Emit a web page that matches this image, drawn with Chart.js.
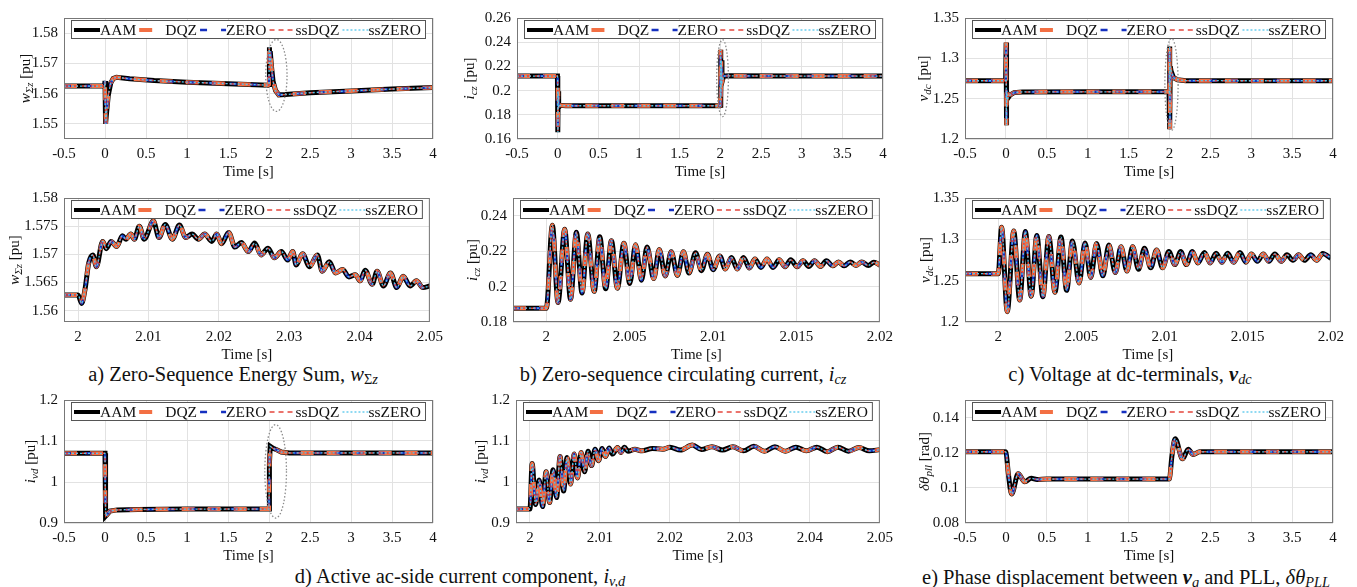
<!DOCTYPE html>
<html>
<head>
<meta charset="utf-8">
<script src="https://cdn.jsdelivr.net/npm/chart.js@4.4.1/dist/chart.umd.min.js"></script>
<style>
  body { margin: 0; background: #fff; width: 1357px; height: 587px; position: relative; overflow: hidden;
         font-family: "Liberation Serif", "Times New Roman", serif; color: #111; }
  .panel { position: absolute; }
  .cap { position: absolute; font-size: 20.5px; white-space: nowrap; line-height: 1; transform: translate(-50%, -50%); }
  .cap sub { font-size: 70%; vertical-align: -0.25em; }
</style>
</head>
<body>
<div class="cap" style="left:233px;top:375px">a) Zero-Sequence Energy Sum, <i>w</i><sub>Σ<i>z</i></sub></div>
<div class="cap" style="left:683px;top:375px">b) Zero-sequence circulating current, <i>i<sub>cz</sub></i></div>
<div class="cap" style="left:1130px;top:375px">c) Voltage at dc-terminals, <b><i>v</i></b><sub><i>dc</i></sub></div>
<div class="cap" style="left:460px;top:577px">d) Active ac-side current component, <i>i<sub>v,d</sub></i></div>
<div class="cap" style="left:1126px;top:578px">e) Phase displacement between <b><i>v</i></b><sub><i>g</i></sub> and PLL, <i>δθ<sub>PLL</sub></i></div>
<script>
// series (models compared)
const seriesNames = ["AAM", "DQZ", "ZERO", "ssDQZ", "ssZERO"];

// tick labels
const tickFull = [-0.5, 0, 0.5, 1, 1.5, 2, 2.5, 3, 3.5, 4];
const tickZoom5 = [2, 2.01, 2.02, 2.03, 2.04, 2.05];
const tickZoom2 = [2, 2.005, 2.01, 2.015, 2.02];
const yTickW1 = [1.55, 1.56, 1.57, 1.58];
const yTickW2 = [1.56, 1.565, 1.57, 1.575, 1.58];
const yTickI1 = [0.16, 0.18, 0.2, 0.22, 0.24, 0.26];
const yTickI2 = [0.18, 0.2, 0.22, 0.24];
const yTickV = [1.2, 1.25, 1.3, 1.35];
const yTickD = [0.9, 1, 1.1, 1.2];
const yTickP = [0.08, 0.1, 0.12, 0.14];

// a) zero-sequence energy sum, full run
const wszT = [-0.5, -0.005, 0, 0.004, 0.01, 0.02, 0.04, 0.07, 0.1, 0.14, 0.3, 0.6, 1.0, 1.5, 1.99, 2.0, 2.003, 2.008, 2.015, 2.03, 2.05, 2.08, 2.12, 2.2, 2.5, 3.0, 3.5, 4.0];
const wszY = [1.5625, 1.5625, 1.5642, 1.5560, 1.5500, 1.5540, 1.5595, 1.5635, 1.5650, 1.5654, 1.5649, 1.5643, 1.5638, 1.5633, 1.5628, 1.5630, 1.5753, 1.5700, 1.5740, 1.5690, 1.5640, 1.5610, 1.5596, 1.5597, 1.5603, 1.5609, 1.5615, 1.5620];
// a) zoom after the step at 2 s
const wszZoomT = [1.998, 2.0, 2.0005, 2.001, 2.0015, 2.0021, 2.0026, 2.0035, 2.004, 2.0047, 2.0055, 2.0063, 2.0068, 2.0075, 2.008, 2.0087, 2.0094, 2.0107, 2.0115, 2.0124, 2.0134, 2.0144, 2.0153, 2.0162, 2.0171, 2.018, 2.019, 2.0197, 2.0204, 2.0214, 2.0223, 2.0232, 2.0242, 2.0251, 2.026, 2.027, 2.0279, 2.0289, 2.0298, 2.0305, 2.031, 2.0319, 2.0329, 2.034, 2.0347, 2.0357, 2.0366, 2.0376, 2.0385, 2.0394, 2.0401, 2.0408, 2.0418, 2.0425, 2.0434, 2.0444, 2.0453, 2.0462, 2.0472, 2.0481, 2.049, 2.05];
const wszZoomY = [1.5628, 1.5628, 1.5613, 1.5639, 1.5684, 1.5699, 1.5678, 1.5723, 1.5710, 1.5723, 1.5714, 1.5733, 1.5727, 1.5736, 1.5727, 1.5750, 1.5727, 1.5759, 1.5730, 1.5753, 1.5727, 1.5752, 1.5730, 1.5736, 1.5727, 1.5736, 1.5723, 1.5736, 1.5719, 1.5739, 1.5713, 1.5721, 1.5705, 1.5720, 1.5699, 1.5711, 1.5694, 1.5705, 1.5690, 1.5705, 1.5681, 1.5701, 1.5678, 1.5699, 1.5670, 1.5687, 1.5667, 1.5673, 1.5660, 1.5664, 1.5653, 1.5672, 1.5647, 1.5670, 1.5644, 1.5667, 1.5641, 1.5661, 1.5644, 1.5653, 1.5641, 1.5644];

// b) zero-sequence circulating current
const iczT = [-0.5, -0.003, 0, 0.003, 0.006, 0.012, 0.03, 0.1, 1.0, 1.995, 2.0, 2.003, 2.007, 2.012, 2.02, 2.04, 2.1, 3, 4];
const iczY = [0.2120, 0.2120, 0.2108, 0.1655, 0.1995, 0.1860, 0.1878, 0.1875, 0.1875, 0.1875, 0.1878, 0.2337, 0.1950, 0.2250, 0.2070, 0.2120, 0.2122, 0.2120, 0.2120];
const iczZoomT = [1.998, 2.0, 2.00036, 2.0007, 2.0011, 2.00145, 2.0018, 2.00214, 2.00248, 2.00287, 2.0032, 2.00356, 2.0039, 2.00426, 2.00465, 2.005, 2.00535, 2.0057, 2.00604, 2.00644, 2.00677, 2.00713, 2.00749, 2.00786, 2.00822, 2.00855, 2.00895, 2.0093, 2.00966, 2.01, 2.0104, 2.01073, 2.0111, 2.01145, 2.01182, 2.01218, 2.01251, 2.01287, 2.01323, 2.0136, 2.01396, 2.01432, 2.01465, 2.01505, 2.01539, 2.01574, 2.01608, 2.01644, 2.01679, 2.01717, 2.01752, 2.01786, 2.01822, 2.01857, 2.01891, 2.01931, 2.01964, 2.02];
const iczZoomY = [0.1878, 0.1878, 0.2346, 0.1910, 0.2324, 0.1928, 0.2306, 0.1964, 0.2297, 0.1973, 0.2281, 0.1987, 0.2259, 0.1991, 0.2245, 0.2018, 0.2236, 0.2036, 0.2223, 0.2045, 0.2209, 0.2060, 0.2196, 0.2063, 0.2196, 0.2077, 0.2191, 0.2090, 0.2182, 0.2095, 0.2173, 0.2099, 0.2164, 0.2099, 0.2164, 0.2105, 0.2155, 0.2108, 0.2155, 0.2108, 0.2151, 0.2112, 0.2151, 0.2112, 0.2146, 0.2114, 0.2146, 0.2114, 0.2146, 0.2117, 0.2139, 0.2117, 0.2139, 0.2119, 0.2139, 0.2119, 0.2137, 0.2121];

// c) dc-terminal voltage
const vdcT = [-0.5, -0.003, 0, 0.003, 0.006, 0.01, 0.02, 0.05, 0.1, 0.2, 1.0, 1.995, 2.0, 2.003, 2.006, 2.01, 2.02, 2.05, 2.1, 2.2, 3, 4];
const vdcY = [1.2722, 1.2722, 1.2722, 1.3195, 1.2170, 1.2600, 1.2500, 1.2545, 1.2575, 1.2584, 1.2585, 1.2585, 1.2585, 1.3148, 1.2120, 1.2900, 1.2840, 1.2760, 1.2735, 1.2723, 1.2722, 1.2722];
const vdcZoomT = [1.998, 2.0, 2.0002, 2.00054, 2.00093, 2.00129, 2.00163, 2.00198, 2.00232, 2.00268, 2.00304, 2.00341, 2.00377, 2.00411, 2.00446, 2.00486, 2.00522, 2.00556, 2.00591, 2.00629, 2.00665, 2.00704, 2.00738, 2.00774, 2.00808, 2.00843, 2.00879, 2.00917, 2.00952, 2.00988, 2.01026, 2.01062, 2.01097, 2.01131, 2.01167, 2.012, 2.0124, 2.01274, 2.0131, 2.01345, 2.01379, 2.01415, 2.01453, 2.01489, 2.01522, 2.01558, 2.01594, 2.01627, 2.01663, 2.01701, 2.01736, 2.01772, 2.01806, 2.01841, 2.01879, 2.01915, 2.01951, 2.02];
const vdcZoomY = [1.2585, 1.2585, 1.3145, 1.2125, 1.3100, 1.2266, 1.3094, 1.2313, 1.3047, 1.2305, 1.3035, 1.2359, 1.3027, 1.2383, 1.2980, 1.2473, 1.2957, 1.2539, 1.2950, 1.2559, 1.2930, 1.2598, 1.2910, 1.2617, 1.2910, 1.2637, 1.2891, 1.2656, 1.2871, 1.2656, 1.2852, 1.2695, 1.2852, 1.2695, 1.2852, 1.2715, 1.2840, 1.2715, 1.2832, 1.2723, 1.2832, 1.2723, 1.2840, 1.2723, 1.2824, 1.2734, 1.2824, 1.2734, 1.2824, 1.2734, 1.2812, 1.2746, 1.2812, 1.2746, 1.2812, 1.2746, 1.2830, 1.2770];

// d) active ac-side current
const ivdT = [-0.5, -0.003, 0, 0.004, 0.01, 0.03, 0.06, 0.15, 0.4, 1.0, 1.995, 2.0, 2.005, 2.015, 2.05, 2.1, 2.15, 2.25, 3, 4];
const ivdY = [1.070, 1.070, 1.070, 0.960, 0.917, 0.922, 0.929, 0.932, 0.933, 0.934, 0.934, 0.934, 1.045, 1.087, 1.082, 1.078, 1.073, 1.071, 1.071, 1.071];
const ivdZoomT = [1.998, 2.0, 2.0003, 2.0008, 2.0013, 2.0018, 2.0023, 2.0028, 2.0033, 2.0038, 2.0043, 2.0048, 2.0053, 2.0058, 2.0063, 2.0068, 2.0073, 2.0078, 2.0083, 2.0088, 2.0093, 2.0098, 2.0103, 2.0108, 2.0113, 2.0118, 2.0125, 2.013, 2.0135, 2.014, 2.015, 2.016, 2.0175, 2.019, 2.02, 2.0215, 2.0232, 2.0245, 2.026, 2.0275, 2.029, 2.0305, 2.032, 2.0335, 2.035, 2.0365, 2.038, 2.0395, 2.041, 2.0425, 2.044, 2.0455, 2.047, 2.0485, 2.05];
const ivdZoomY = [0.934, 0.934, 1.045, 0.945, 1.005, 0.940, 1.025, 0.950, 1.030, 0.962, 1.062, 0.978, 1.060, 0.995, 1.068, 1.010, 1.072, 1.025, 1.075, 1.040, 1.080, 1.052, 1.082, 1.062, 1.083, 1.068, 1.084, 1.072, 1.085, 1.075, 1.080, 1.076, 1.082, 1.080, 1.085, 1.078, 1.090, 1.079, 1.086, 1.078, 1.086, 1.076, 1.087, 1.075, 1.086, 1.075, 1.085, 1.076, 1.085, 1.074, 1.085, 1.075, 1.084, 1.076, 1.079];

// e) PLL phase displacement
const pllT = [-0.5, -0.01, 0, 0.03, 0.07, 0.15, 0.23, 0.31, 0.38, 0.5, 1.0, 1.5, 1.99, 2.0, 2.03, 2.07, 2.16, 2.23, 2.29, 2.37, 2.5, 3, 4];
const pllY = [0.1205, 0.1205, 0.1203, 0.108, 0.0965, 0.108, 0.1035, 0.1055, 0.1048, 0.105, 0.105, 0.105, 0.105, 0.1052, 0.118, 0.128, 0.1165, 0.122, 0.119, 0.1205, 0.1205, 0.1205, 0.1205];

// ---- styling ----
const FONT = '"Liberation Serif", "Times New Roman", serif';
const lineStyle = [
  { color: "#000000", width: 5, dash: [] },
  { color: "#f36f43", width: 4, dash: [13, 13] },
  { color: "#1530c0", width: 2.5, dash: [7, 14] },
  { color: "#e5453c", width: 1.5, dash: [5, 4] },
  { color: "#54c6ec", width: 1.3, dash: [2, 2] },
];
const PAD_L = 64, PAD_T = 10, PAD_R = 16, X_H = 44;

const fmt = (v) => String(+Number(v).toFixed(5));

const framePlugin = {
  id: "frame",
  afterDatasetsDraw(chart, args, opts) {
    const { ctx, scales } = chart;
    // dotted ellipse marking the zoomed region
    if (opts.ring) {
      const r = opts.ring;
      const cx = scales.x.getPixelForValue(r.cx), cy = scales.y.getPixelForValue(r.cy);
      const rx = Math.abs(scales.x.getPixelForValue(r.cx + r.rx) - cx);
      const ry = Math.abs(scales.y.getPixelForValue(r.cy + r.ry) - cy);
      ctx.save();
      ctx.strokeStyle = "#8a8a8a";
      ctx.lineWidth = 1.3;
      ctx.setLineDash([1.5, 2]);
      ctx.beginPath();
      ctx.ellipse(cx, cy, rx, ry, 0, 0, Math.PI * 2);
      ctx.stroke();
      ctx.restore();
    }
  },
  afterDraw(chart, args, opts) {
    const { ctx, chartArea: ca } = chart;
    ctx.save();
    ctx.strokeStyle = "#777";
    ctx.lineWidth = 1;
    ctx.strokeRect(ca.left + 0.5, ca.top + 0.5, ca.right - ca.left - 1, ca.bottom - ca.top - 1);

    // legend box inside the axes
    const bx = ca.left + 7, by = ca.top + 2, bw = ca.right - ca.left - 14, bh = 19;
    ctx.fillStyle = "#fff";
    ctx.fillRect(bx, by, bw, bh);
    ctx.strokeStyle = "#555";
    ctx.strokeRect(bx + 0.5, by + 0.5, bw - 1, bh - 1);
    ctx.font = "15.5px " + FONT;
    const sample = 26;
    const widths = seriesNames.map((n) => ctx.measureText(n).width);
    const used = widths.reduce((a, b) => a + b, 0) + sample * seriesNames.length;
    const gap = (bw - 8 - used) / (seriesNames.length - 1);
    let x = bx + 3;
    const my = by + bh / 2 + 0.5;
    seriesNames.forEach((n, k) => {
      const st = lineStyle[k];
      ctx.strokeStyle = st.color;
      ctx.lineWidth = Math.min(st.width, 4);
      ctx.setLineDash(st.dash);
      ctx.beginPath();
      ctx.moveTo(x, my);
      ctx.lineTo(x + sample, my);
      ctx.stroke();
      ctx.setLineDash([]);
      ctx.fillStyle = "#111";
      ctx.textBaseline = "middle";
      ctx.fillText(n, x + sample, my + 1);
      x += sample + widths[k] + gap;
    });

    // y-axis title with sub-scripts, rotated
    const parts = opts.ytitle;
    if (parts) {
      const fontFor = (st) => (st.includes("i") ? "italic " : "") + (st.includes("b") ? "bold " : "") + (st.includes("s") ? "11px " : "15px ") + FONT;
      ctx.translate(ca.left + opts.dx, (ca.top + ca.bottom) / 2);
      ctx.rotate(-Math.PI / 2);
      let total = 0;
      parts.forEach(([t, st]) => { ctx.font = fontFor(st); total += ctx.measureText(t).width; });
      let tx = -total / 2;
      ctx.fillStyle = "#111";
      ctx.textBaseline = "alphabetic";
      parts.forEach(([t, st]) => {
        ctx.font = fontFor(st);
        ctx.fillText(t, tx, st.includes("s") ? 8 : 5);
        tx += ctx.measureText(t).width;
      });
    }
    ctx.restore();
  },
};

const panels = [
  { box: [64, 13, 369, 126], t: wszT, y: wszY, xr: [-0.5, 4], yr: [1.545, 1.585], xt: tickFull, yt: yTickW1, smooth: false,
    ytitle: [["w", "i"], ["Σz", "si"], [" [pu]", ""]], dx: -39, ring: { cx: 2.09, cy: 1.566, rx: 0.13, ry: 0.0119 } },
  { box: [517, 13, 366, 126], t: iczT, y: iczY, xr: [-0.5, 4], yr: [0.16, 0.26], xt: tickFull, yt: yTickI1, smooth: false,
    ytitle: [["i", "i"], ["cz", "si"], [" [pu]", ""]], dx: -48, ring: { cx: 2.027, cy: 0.2103, rx: 0.072, ry: 0.0318 } },
  { box: [965, 13, 368, 126], t: vdcT, y: vdcY, xr: [-0.5, 4], yr: [1.2, 1.35], xt: tickFull, yt: yTickV, smooth: false,
    ytitle: [["v", "i"], ["dc", "si"], [" [pu]", ""]], dx: -42, ring: { cx: 2.025, cy: 1.2676, rx: 0.081, ry: 0.0571 } },
  { box: [64, 193, 369, 129], t: wszZoomT, y: wszZoomY, xr: [1.998, 2.05], yr: [1.558, 1.58], xt: tickZoom5, yt: yTickW2, smooth: true,
    ytitle: [["w", "i"], ["Σz", "si"], [" [pu]", ""]], dx: -50 },
  { box: [513, 193, 370, 129], t: iczZoomT, y: iczZoomY, xr: [1.998, 2.02], yr: [0.18, 0.25], xt: tickZoom2, yt: yTickI2, smooth: true,
    ytitle: [["i", "i"], ["cz", "si"], [" [pu]", ""]], dx: -41 },
  { box: [965, 193, 369, 129], t: vdcZoomT, y: vdcZoomY, xr: [1.998, 2.02], yr: [1.2, 1.35], xt: tickZoom2, yt: yTickV, smooth: true,
    ytitle: [["v", "i"], ["dc", "si"], [" [pu]", ""]], dx: -40 },
  { box: [64, 395, 369, 128], t: ivdT, y: ivdY, xr: [-0.5, 4], yr: [0.9, 1.2], xt: tickFull, yt: yTickD, smooth: false,
    ytitle: [["i", "i"], ["vd", "si"], [" [pu]", ""]], dx: -34, ring: { cx: 2.081, cy: 1.026, rx: 0.132, ry: 0.114 } },
  { box: [516, 395, 367, 128], t: ivdZoomT, y: ivdZoomY, xr: [1.998, 2.05], yr: [0.9, 1.2], xt: tickZoom5, yt: yTickD, smooth: true,
    ytitle: [["i", "i"], ["vd", "si"], [" [pu]", ""]], dx: -36 },
  { box: [965, 395, 368, 128], t: pllT, y: pllY, xr: [-0.5, 4], yr: [0.08, 0.15], xt: tickFull, yt: yTickP, smooth: true,
    ytitle: [["δθ", "i"], ["pll", "si"], [" [rad]", ""]], dx: -41 },
];

function makePanel(p) {
  const [L, T, W, H] = p.box;
  const cw = W + PAD_L + PAD_R, ch = H + PAD_T + X_H;
  const wrap = document.createElement("div");
  wrap.className = "panel";
  wrap.style.left = (L - PAD_L) + "px";
  wrap.style.top = (T - PAD_T) + "px";
  wrap.style.width = cw + "px";
  wrap.style.height = ch + "px";
  const canvas = document.createElement("canvas");
  canvas.width = cw;
  canvas.height = ch;
  canvas.style.width = cw + "px";
  canvas.style.height = ch + "px";
  wrap.appendChild(canvas);
  document.body.appendChild(wrap);

  const tickFont = { family: FONT, size: 15 };
  const points = p.t.map((x, i) => ({ x, y: p.y[i] }));

  new Chart(canvas, {
    type: "line",
    data: {
      datasets: seriesNames.map((name, k) => ({
        label: name,
        data: points,
        borderColor: lineStyle[k].color,
        borderWidth: lineStyle[k].width,
        borderDash: lineStyle[k].dash,
        pointRadius: 0,
        fill: false,
        order: seriesNames.length - k,
        cubicInterpolationMode: p.smooth ? "monotone" : "default",
        tension: 0,
      })),
    },
    options: {
      responsive: false,
      animation: false,
      events: [],
      layout: { padding: { left: 0, top: PAD_T, right: PAD_R, bottom: 0 } },
      plugins: {
        legend: { display: false },
        tooltip: { enabled: false },
        frame: { ytitle: p.ytitle, dx: p.dx, ring: p.ring },
      },
      scales: {
        x: {
          type: "linear",
          min: p.xr[0],
          max: p.xr[1],
          afterBuildTicks: (s) => { s.ticks = p.xt.map((v) => ({ value: v })); },
          afterFit: (s) => { s.height = X_H; },
          grid: { color: "#e2e2e2", drawTicks: false },
          border: { display: false },
          ticks: { padding: 6, color: "#111", font: tickFont, callback: fmt, autoSkip: false, maxRotation: 0 },
          title: { display: true, text: "Time [s]", color: "#111", font: tickFont, padding: { top: 0, bottom: 2 } },
        },
        y: {
          type: "linear",
          min: p.yr[0],
          max: p.yr[1],
          afterBuildTicks: (s) => { s.ticks = p.yt.map((v) => ({ value: v })); },
          afterFit: (s) => { s.width = PAD_L; },
          grid: { color: "#e2e2e2", drawTicks: false },
          border: { display: false },
          ticks: { padding: 6, color: "#111", font: tickFont, callback: fmt, autoSkip: false },
        },
      },
    },
    plugins: [framePlugin],
  });
}

panels.forEach(makePanel);
</script>
</body>
</html>
